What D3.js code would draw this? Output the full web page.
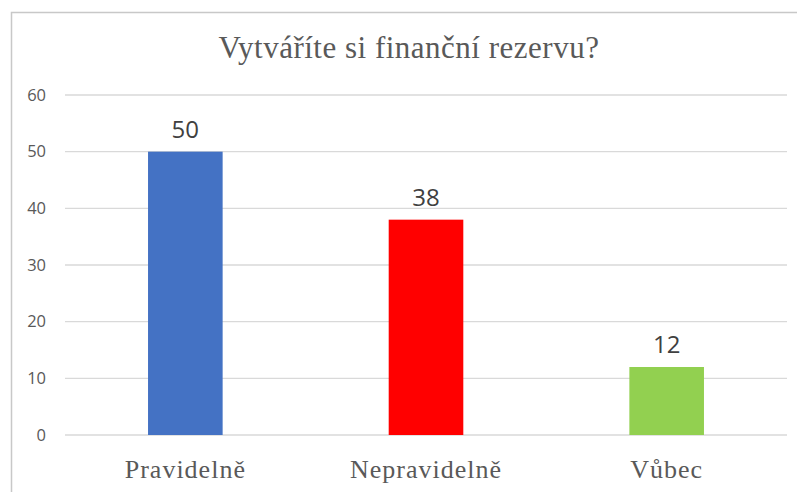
<!DOCTYPE html>
<html>
<head>
<meta charset="utf-8">
<script src="https://cdn.jsdelivr.net/npm/d3@7"></script>
<style>
body{margin:0;background:#fff;}
</style>
</head>
<body>
<div class="graph"></div>
<script>
// data
const categories = ["Pravidelně", "Nepravidelně", "Vůbec"];
const values = [50, 38, 12];
const colors = ["#4472C4", "#FF0000", "#92D050"];
const yTicks = [0, 10, 20, 30, 40, 50, 60];
const title = "Vytváříte si finanční rezervu?";

const W = 797, H = 492;
const svg = d3.select(".graph").append("svg")
	.attr("width", W)
	.attr("height", H);

// chart frame
svg.append("rect")
	.attr("x", 11.5).attr("y", 12.5)
	.attr("width", W).attr("height", H)
	.attr("fill", "#fff")
	.attr("stroke", "#c8c8c8")
	.attr("stroke-width", 1.5);

const x = d3.scaleBand().domain(categories).range([65, 787]).paddingInner(0.69).paddingOuter(0.345);
const y = d3.scaleLinear().domain([0, 60]).range([435, 95]);

svg.append("text")
	.attr("x", 409).attr("y", 58)
	.attr("text-anchor", "middle")
	.attr("font-family", "Liberation Serif")
	.attr("font-size", 31)
	.attr("letter-spacing", 0.5)
	.attr("fill", "#595959")
	.text(title);

// gridlines
svg.append("g").selectAll("line")
	.data(yTicks)
	.join("line")
	.attr("x1", 65).attr("x2", 787)
	.attr("y1", d => y(d)).attr("y2", d => y(d))
	.attr("stroke", "#d9d9d9")
	.attr("stroke-width", 1.3);

// y axis labels
const yAxis = svg.append("g")
	.attr("transform", "translate(55,0)")
	.call(d3.axisLeft(y).tickValues(yTicks).tickSize(0).tickPadding(9));
yAxis.select(".domain").remove();
yAxis.selectAll("text")
	.attr("font-family", "Open Sans")
	.attr("font-size", 16.5)
	.attr("fill", "#595959");

// bars
svg.append("g").selectAll("rect")
	.data(values)
	.join("rect")
	.attr("x", (d, i) => x(categories[i]))
	.attr("y", d => y(d))
	.attr("width", x.bandwidth())
	.attr("height", d => y(0) - y(d))
	.attr("fill", (d, i) => colors[i]);

// value labels
svg.append("g").selectAll("text")
	.data(values)
	.join("text")
	.attr("x", (d, i) => x(categories[i]) + x.bandwidth() / 2)
	.attr("y", d => y(d) - 14)
	.attr("text-anchor", "middle")
	.attr("font-family", "Open Sans")
	.attr("font-size", 24)
	.attr("fill", "#404040")
	.text(d => d);

// x axis labels
const xAxis = svg.append("g")
	.attr("transform", "translate(0,435)")
	.call(d3.axisBottom(x).tickSize(0).tickPadding(0));
xAxis.select(".domain").remove();
xAxis.selectAll("text")
	.attr("dy", 0)
	.attr("y", 43)
	.attr("font-family", "Liberation Serif")
	.attr("font-size", 26)
	.attr("letter-spacing", 1)
	.attr("fill", "#595959");
</script>
</body>
</html>
